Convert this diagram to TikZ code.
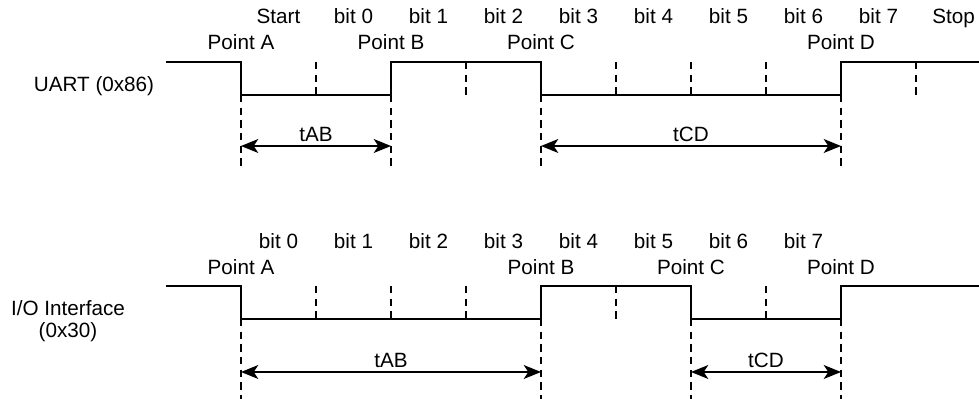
\documentclass[tikz,border=0pt]{standalone}
\usepackage{fontspec}
\setmainfont{Liberation Sans}
\usetikzlibrary{arrows.meta}

\begin{document}
\begin{tikzpicture}[x=0.75pt,y=0.75pt,
  wave/.style={line width=1.5pt},
  tick/.style={line width=1.2pt, dash pattern=on 5.5pt off 4pt},
  span/.style={line width=1.1pt, {Stealth[length=13pt,width=10.5pt,inset=3.5pt]}-{Stealth[length=13pt,width=10.5pt,inset=3.5pt]}},
  lbl/.style={anchor=base, inner sep=0pt, font=\fontsize{15.5}{17}\selectfont}]
\useasboundingbox (0,0) rectangle (979,399);

% UART (0x86)
\node[lbl] (uart) at (94,307) {UART (0x86)};
\foreach \x/\t in {278.5/Start,353.5/bit 0,428.5/bit 1,503.5/bit 2,578.5/bit 3,
                   653.5/bit 4,728.5/bit 5,803.5/bit 6,878.5/bit 7,953.5/Stop}
  \node[lbl] at (\x,375) {\t};
\node[lbl] (upA) at (241,349) {Point A};
\node[lbl] (upB) at (391,349) {Point B};
\node[lbl] (upC) at (541,349) {Point C};
\node[lbl] (upD) at (841,349) {Point D};

\draw[wave] (166,337) -- (241,337) -- (241,304) -- (391,304) -- (391,337)
  -- (541,337) -- (541,304) -- (841,304) -- (841,337) -- (979,337);
\foreach \x in {316,466,616,691,766,916}
  \draw[tick] (\x,337) -- (\x,304);

\coordinate (uA) at (241,253);
\coordinate (uB) at (391,253);
\coordinate (uC) at (541,253);
\coordinate (uD) at (841,253);
\foreach \x in {241,391,541,841}
  \draw[tick] (\x,304) -- (\x,232);
\draw[span] (uA) -- node[lbl, above=3pt] {tAB} (uB);
\draw[span] (uC) -- node[lbl, above=3pt] {tCD} (uD);

% I/O Interface (0x30)
\node[lbl, align=center] (io) at (68,61) {I/O Interface\\(0x30)};
\foreach \x/\t in {278.5/bit 0,353.5/bit 1,428.5/bit 2,503.5/bit 3,
                   578.5/bit 4,653.5/bit 5,728.5/bit 6,803.5/bit 7}
  \node[lbl] at (\x,150) {\t};
\node[lbl] (ipA) at (241,124) {Point A};
\node[lbl] (ipB) at (541,124) {Point B};
\node[lbl] (ipC) at (691,124) {Point C};
\node[lbl] (ipD) at (841,124) {Point D};

\draw[wave] (166,113) -- (241,113) -- (241,80) -- (541,80) -- (541,113)
  -- (691,113) -- (691,80) -- (841,80) -- (841,113) -- (979,113);
\foreach \x in {316,391,466,616,766}
  \draw[tick] (\x,113) -- (\x,80);

\coordinate (iA) at (241,27);
\coordinate (iB) at (541,27);
\coordinate (iC) at (691,27);
\coordinate (iD) at (841,27);
\foreach \x in {241,541,691,841}
  \draw[tick] (\x,80) -- (\x,0);
\draw[span] (iA) -- node[lbl, above=3pt] {tAB} (iB);
\draw[span] (iC) -- node[lbl, above=3pt] {tCD} (iD);

\end{tikzpicture}
\end{document}
